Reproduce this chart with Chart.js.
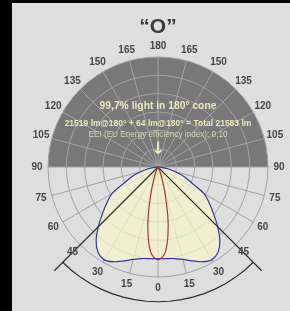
<!DOCTYPE html>
<html>
<head>
<meta charset="utf-8">
<script src="https://cdn.jsdelivr.net/npm/chart.js@4.4.1/dist/chart.umd.min.js"></script>
<style>
  html, body { margin: 0; padding: 0; background: #000; }
  canvas { display: block; }
</style>
</head>
<body>
<canvas id="polarChart" width="290" height="311"></canvas>
<script>
// gamma angles of one half plane, 5 degree steps (0 = straight down)
const halfAngles = [0, 5, 10, 15, 20, 25, 30, 35, 40, 45, 50, 55, 60, 65, 70, 75, 80, 85, 90,
    95, 100, 105, 110, 115, 120, 125, 130, 135, 140, 145, 150, 155, 160, 165, 170, 175, 180]
// intensity, same steps
const blueHalf = [500, 502, 507, 522, 545, 570, 585, 570, 525, 460, 395, 340, 290, 200, 150, 95, 55, 20, 0,
    0, 0, 0, 0, 0, 0, 0, 0, 0, 0, 0, 0, 0, 0, 0, 0, 0, 0]
const redHalf = [505, 465, 320, 150, 55, 18, 5, 0, 0, 0, 0, 0, 0, 0, 0, 0, 0, 0, 0,
    0, 0, 0, 0, 0, 0, 0, 0, 0, 0, 0, 0, 0, 0, 0, 0, 0, 0]
const angleTicks = [0, 15, 30, 45, 60, 75, 90, 105, 120, 135, 150, 165, 180]
const coneAngle = 45
const coneArcValue = 735
const coneLineValue = 800

const textLines = [
    '99,7% light in 180° cone',
    '21519 lm@180° + 64 lm@180° = Total 21583 lm',
    'EEI (EU Energy efficiency index): 0,10'
]

// full circle: left half goes 0 -> 180, right half comes back 175 -> 5
const n = halfAngles.length - 1
const fullLabels = []
for (let i = 0; i < n * 2; i++) {
    fullLabels.push(i <= n ? halfAngles[i] : halfAngles[2 * n - i])
}
const mirror = (half) => fullLabels.map((a, i) => half[i <= n ? i : 2 * n - i])

const polarDecor = {
    id: 'polarDecor',
    beforeDraw(chart) {
        const ctx = chart.ctx
        const r = chart.scales.r
        ctx.save()
        ctx.fillStyle = '#000'
        ctx.fillRect(0, 0, chart.width, chart.height)
        ctx.fillStyle = '#dedede'
        ctx.fillRect(12, 3, chart.width - 12, chart.height - 3)
        // upper hemisphere
        ctx.fillStyle = '#787878'
        ctx.beginPath()
        ctx.arc(r.xCenter, r.yCenter, r.drawingArea, Math.PI, 2 * Math.PI)
        ctx.closePath()
        ctx.fill()
        ctx.restore()
    },
    afterDraw(chart) {
        const ctx = chart.ctx
        const r = chart.scales.r
        const cx = r.xCenter
        const cy = r.yCenter
        ctx.save()
        ctx.textAlign = 'center'
        ctx.textBaseline = 'middle'

        ctx.fillStyle = '#454545'
        ctx.font = 'bold 10px "Liberation Sans", Arial, sans-serif'
        fullLabels.forEach((a, i) => {
            if (!angleTicks.includes(a)) return
            const p = r.getPointPosition(i, r.drawingArea + 11)
            ctx.fillText(String(a), p.x, p.y)
        })

        ctx.fillStyle = '#3a3a3a'
        ctx.font = 'bold 21px "Liberation Sans", Arial, sans-serif'
        ctx.fillText('“O”', cx, cy - 140)

        ctx.fillStyle = '#ebe7bf'
        ctx.font = 'bold 10.3px "Liberation Sans", Arial, sans-serif'
        ctx.fillText(textLines[0], cx, cy - 61)
        ctx.font = 'bold 8.5px "Liberation Sans", Arial, sans-serif'
        ctx.fillText(textLines[1], cx, cy - 43)
        ctx.fillStyle = '#d6d3b8'
        ctx.font = '8.2px "Liberation Sans", Arial, sans-serif'
        ctx.fillText(textLines[2], cx, cy - 32)

        ctx.fillStyle = '#ebe7bf'
        ctx.font = 'bold 17px "DejaVu Sans", sans-serif'
        ctx.fillText('↓', cx, cy - 17)
        ctx.restore()
    }
}

const ctx = document.getElementById('polarChart').getContext('2d')
const polarChart = new Chart(ctx, {
    type: 'radar',
    data: {
        labels: fullLabels,
        datasets: [
            {
                data: mirror(redHalf),
                borderColor: '#b0352b',
                fill: false,
                tension: 0.35
            },
            {
                data: fullLabels.map((a) => a === coneAngle ? coneLineValue : 0),
                borderColor: '#2e2e28',
                fill: false,
                tension: 0
            },
            {
                data: fullLabels.map((a) => a <= coneAngle ? coneArcValue : null),
                borderColor: '#2e2e28',
                fill: false,
                spanGaps: false,
                tension: 0
            },
            {
                data: mirror(blueHalf),
                borderColor: '#3636a0',
                backgroundColor: 'rgba(250, 246, 205, 0.7)',
                fill: true,
                tension: 0.35
            }
        ]
    },
    options: {
        responsive: false,
        animation: false,
        layout: { padding: { left: 48, right: 22, top: 57, bottom: 34 } },
        plugins: {
            legend: { display: false },
            tooltip: { enabled: false }
        },
        elements: {
            point: { radius: 0 },
            line: { borderWidth: 1.2 }
        },
        scales: {
            r: {
                startAngle: 180,
                min: 0,
                max: 600,
                ticks: { display: false, stepSize: 100 },
                pointLabels: { display: false },
                grid: { circular: true, color: '#a3a3a3', lineWidth: 1 },
                angleLines: {
                    color: (c) => angleTicks.includes(fullLabels[c.index]) ? '#a3a3a3' : 'rgba(0,0,0,0)',
                    lineWidth: 1
                }
            }
        }
    },
    plugins: [polarDecor]
})
</script>
</body>
</html>
